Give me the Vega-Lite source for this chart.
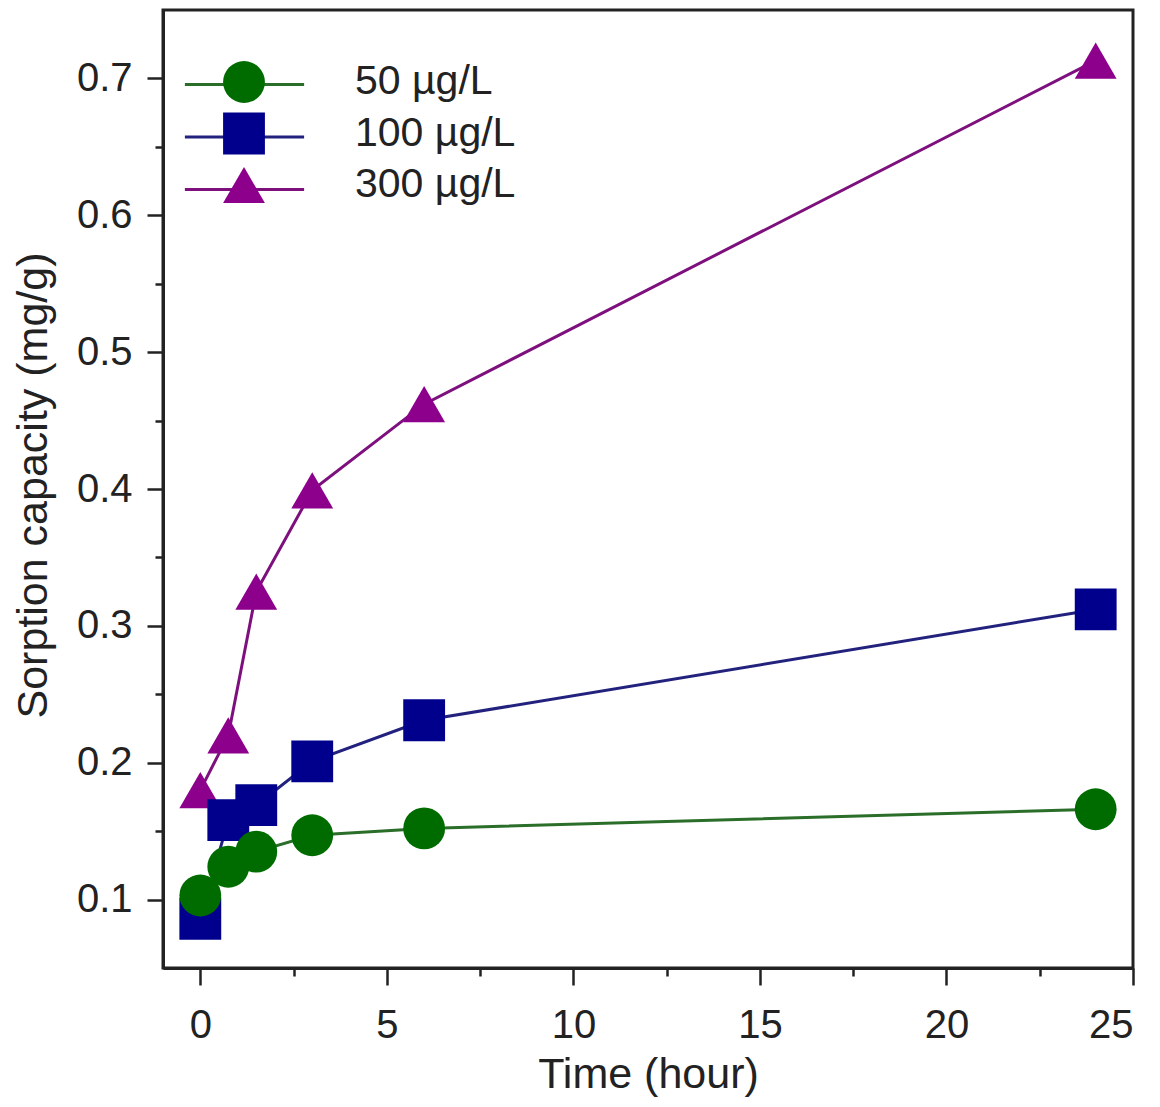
{
  "$schema": "https://vega.github.io/schema/vega-lite/v6.json",
  "width": 970,
  "height": 958,
  "autosize": {"type": "none"},
  "padding": {"left": 163, "top": 10, "right": 27, "bottom": 139},
  "background": "white",
  "config": {
    "view": {"stroke": "#222222", "strokeWidth": 3},
    "font": "Liberation Sans",
    "axis": {
      "grid": false,
      "domainColor": "#222222",
      "domainWidth": 3,
      "tickColor": "#222222",
      "tickWidth": 2.5,
      "labelColor": "#222222",
      "titleColor": "#222222",
      "labelFont": "Liberation Sans",
      "titleFont": "Liberation Sans",
      "labelFontSize": 40,
      "titleFontSize": 43,
      "titleFontWeight": "normal"
    },
    "legend": {
      "labelFont": "Liberation Sans",
      "labelFontSize": 41,
      "labelColor": "#222222",
      "labelLimit": 0,
      "padding": 0,
      "rowPadding": 9.5
    }
  },
  "data": {
    "values": [
      {"series": "300 µg/L", "conc": 300, "time": 0, "capacity": 0.180},
      {"series": "300 µg/L", "conc": 300, "time": 0.75, "capacity": 0.220},
      {"series": "300 µg/L", "conc": 300, "time": 1.5, "capacity": 0.325},
      {"series": "300 µg/L", "conc": 300, "time": 3, "capacity": 0.399},
      {"series": "300 µg/L", "conc": 300, "time": 6, "capacity": 0.462},
      {"series": "300 µg/L", "conc": 300, "time": 24, "capacity": 0.713},
      {"series": "100 µg/L", "conc": 100, "time": 0, "capacity": 0.086},
      {"series": "100 µg/L", "conc": 100, "time": 0.75, "capacity": 0.158},
      {"series": "100 µg/L", "conc": 100, "time": 1.5, "capacity": 0.169},
      {"series": "100 µg/L", "conc": 100, "time": 3, "capacity": 0.201},
      {"series": "100 µg/L", "conc": 100, "time": 6, "capacity": 0.231},
      {"series": "100 µg/L", "conc": 100, "time": 24, "capacity": 0.312},
      {"series": "50 µg/L", "conc": 50, "time": 0, "capacity": 0.103},
      {"series": "50 µg/L", "conc": 50, "time": 0.75, "capacity": 0.124},
      {"series": "50 µg/L", "conc": 50, "time": 1.5, "capacity": 0.135},
      {"series": "50 µg/L", "conc": 50, "time": 3, "capacity": 0.147},
      {"series": "50 µg/L", "conc": 50, "time": 6, "capacity": 0.152},
      {"series": "50 µg/L", "conc": 50, "time": 24, "capacity": 0.166}
    ]
  },
  "encoding": {
    "x": {
      "field": "time",
      "type": "quantitative",
      "scale": {"domain": [-1, 25], "nice": false, "zero": false},
      "axis": {
        "title": "Time (hour)",
        "values": [0, 2.5, 5, 7.5, 10, 12.5, 15, 17.5, 20, 22.5, 25],
        "labelExpr": "datum.value % 5 === 0 ? datum.label : ''",
        "tickSize": {"condition": {"test": "datum.value % 5 === 0", "value": 17}, "value": 8},
        "labelPadding": 20,
        "titleY": 119,
        "titleBaseline": "alphabetic"
      }
    },
    "y": {
      "field": "capacity",
      "type": "quantitative",
      "scale": {"domain": [0.05, 0.75], "nice": false, "zero": false},
      "axis": {
        "title": "Sorption capacity (mg/g)",
        "values": [0.1, 0.15, 0.2, 0.25, 0.3, 0.35, 0.4, 0.45, 0.5, 0.55, 0.6, 0.65, 0.7],
        "labelExpr": "abs(datum.value * 10 - round(datum.value * 10)) < 0.01 ? format(datum.value, '.1f') : ''",
        "tickSize": {"condition": {"test": "abs(datum.value * 10 - round(datum.value * 10)) < 0.01", "value": 16}, "value": 8},
        "labelPadding": 15,
        "titleX": -117,
        "titleY": 475,
        "titleAngle": -90,
        "titleAlign": "center",
        "titleBaseline": "alphabetic"
      }
    }
  },
  "layer": [
    {
      "mark": {"type": "line", "strokeWidth": 3},
      "encoding": {
        "stroke": {
          "field": "conc",
          "type": "nominal",
          "scale": {"domain": [50, 100, 300], "range": ["#2a6e2a", "#22227e", "#7e107e"]},
          "legend": {
            "title": null,
            "orient": "none",
            "legendX": 59,
            "legendY": 52,
            "symbolType": "M-2.85,0H2.85",
            "symbolSize": 1750,
            "symbolStrokeWidth": 3,
            "symbolFillColor": "transparent",
            "labelOpacity": 0
          }
        }
      }
    },
    {
      "mark": {"type": "point", "filled": true, "size": 1750, "opacity": 1},
      "encoding": {
        "color": {
          "field": "series",
          "type": "nominal",
          "scale": {"domain": ["50 µg/L", "100 µg/L", "300 µg/L"], "range": ["#006c00", "#00008c", "#8c008c"]},
          "legend": {
            "title": null,
            "orient": "none",
            "legendX": 60,
            "legendY": 51,
            "symbolSize": 1750,
            "symbolStrokeWidth": 0,
            "symbolOpacity": 1,
            "labelOffset": 90
          }
        },
        "shape": {
          "field": "series",
          "type": "nominal",
          "scale": {"domain": ["50 µg/L", "100 µg/L", "300 µg/L"], "range": ["circle", "square", "triangle-up"]}
        }
      }
    }
  ]
}
